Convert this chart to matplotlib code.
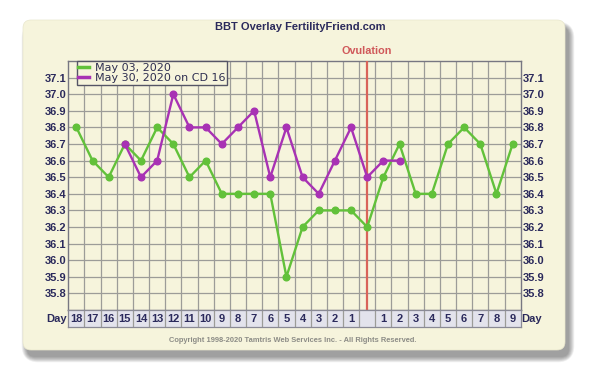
import matplotlib
matplotlib.use('Agg')
import matplotlib.pyplot as plt
import numpy as np
from matplotlib.patches import FancyBboxPatch
from matplotlib.lines import Line2D

# ---------------- data ----------------
day_labels = ['18', '17', '16', '15', '14', '13', '12', '11', '10', '9', '8', '7', '6', '5',
              '4', '3', '2', '1', '', '1', '2', '3', '4', '5', '6', '7', '8', '9']
ovulation_index = 18
green_label = 'May 03, 2020'
green_temps = [36.8, 36.6, 36.5, 36.7, 36.6, 36.8, 36.7, 36.5, 36.6, 36.4, 36.4, 36.4, 36.4, 35.9,
               36.2, 36.3, 36.3, 36.3, 36.2, 36.5, 36.7, 36.4, 36.4, 36.7, 36.8, 36.7, 36.4, 36.7]
purple_label = 'May 30, 2020 on CD 16'
purple_temps = [None, None, None, 36.7, 36.5, 36.6, 37.0, 36.8, 36.8, 36.7, 36.8, 36.9, 36.5, 36.8,
                36.5, 36.4, 36.6, 36.8, 36.5, 36.6, 36.6, None, None, None, None, None, None, None]
y_ticks = [35.8, 35.9, 36.0, 36.1, 36.2, 36.3, 36.4, 36.5, 36.6, 36.7, 36.8, 36.9, 37.0, 37.1]

# ---------------- style ----------------
W, H = 600, 379
CREAM = '#f6f4dc'
NAVY = '#2b2a5c'
GREEN = '#62c13a'
PURPLE = '#a832b4'
RED = '#d9645a'
GRID = '#9c9c98'
BOLD = dict(family='Liberation Sans', weight='bold')

fig = plt.figure(figsize=(W / 100, H / 100), dpi=100)
fig.patch.set_facecolor('white')

# background layer in pixel coordinates
bg = fig.add_axes([0, 0, 1, 1], zorder=0)
bg.set_xlim(0, W)
bg.set_ylim(H, 0)
bg.axis('off')

px, py, pw, ph = 23, 20, 542, 330
for i in range(10):
    e = 9 - i
    bg.add_patch(FancyBboxPatch((px + 4 - e * 0.6, py + 7 - e * 0.6), pw + e * 1.2, ph + e * 1.2,
                                boxstyle='round,pad=0,rounding_size=%g' % (8 + e),
                                fc='black', ec='none', alpha=0.045))
bg.add_patch(FancyBboxPatch((px, py), pw, ph, boxstyle='round,pad=0,rounding_size=8',
                            fc=CREAM, ec='#e8e6cc', lw=0.5))

bg.text(300, 27.5, 'BBT Overlay FertilityFriend.com', ha='center', va='center',
        fontsize=8, color=NAVY, **BOLD)
bg.text(367, 51, 'Ovulation', ha='center', va='center', fontsize=7.8, color='#d0585a', **BOLD)
bg.text(57, 318.5, 'Day', ha='center', va='center', fontsize=8, color=NAVY, **BOLD)
bg.text(532, 318.5, 'Day', ha='center', va='center', fontsize=8, color=NAVY, **BOLD)
bg.text(292.5, 340, 'Copyright 1998-2020 Tamtris Web Services Inc. - All Rights Reserved.',
        ha='center', va='center', fontsize=5.4, color='#8c8c86', **BOLD)

# ---------------- main plot ----------------
L, R, T, B = 68.3, 520.7, 61, 310
ax = fig.add_axes([L / W, 1 - B / H, (R - L) / W, (B - T) / H], zorder=2)
ax.set_facecolor(CREAM)
x = np.arange(len(day_labels))
ax.set_xlim(-0.5, len(day_labels) - 0.5)
ax.set_ylim(35.7, 37.2)
ax.set_yticks(y_ticks)
ax.set_yticklabels(['%.1f' % v for v in y_ticks])
ax.set_xticks([])
ax.set_xticks(x[:-1] + 0.5, minor=True)
ax.tick_params(axis='x', which='both', length=0, labelbottom=False)
ax.tick_params(axis='y', length=0, pad=1.5, labelsize=8, labelcolor=NAVY,
               left=True, right=True, labelleft=True, labelright=True)
for lab in ax.get_yticklabels():
    lab.set_fontfamily('Liberation Sans')
    lab.set_fontweight('bold')
ax.grid(which='minor', axis='x', color=GRID, lw=0.9)
ax.grid(which='major', axis='y', color=GRID, lw=0.9)
ax.set_axisbelow(True)
for s in ax.spines.values():
    s.set_color('#777782')
    s.set_linewidth(1.0)

ax.axvline(ovulation_index, color=RED, lw=1.6, zorder=3)

g = np.array(green_temps, dtype=float)
p = np.array([np.nan if v is None else v for v in purple_temps], dtype=float)
ax.plot(x, g, color=GREEN, lw=1.7, marker='o', ms=4.8, zorder=4)
ax.plot(x, p, color=PURPLE, lw=1.7, marker='o', ms=4.8, zorder=5)

handles = [Line2D([], [], color=GREEN, lw=2.5), Line2D([], [], color=PURPLE, lw=2.5)]
leg = ax.legend(handles, [green_label, purple_label], loc='upper left',
                bbox_to_anchor=((76.7 - L) / (R - L), 0.998), borderaxespad=0,
                fancybox=False, edgecolor='#555566', facecolor=CREAM, framealpha=1,
                prop=dict(family='DejaVu Sans', size=8), borderpad=0.15, labelspacing=0.0,
                handlelength=1.0, handletextpad=0.5)
leg.get_frame().set_linewidth(1.0)
for t in leg.get_texts():
    t.set_color('#2e2e50')
leg.set_zorder(10)

# ---------------- day row ----------------
DB = 326.5
dax = fig.add_axes([L / W, 1 - DB / H, (R - L) / W, (DB - B) / H], zorder=2)
dax.set_facecolor('#e3e3ec')
dax.set_xlim(-0.5, len(day_labels) - 0.5)
dax.set_ylim(0, 1)
dax.set_xticks([])
dax.set_yticks([])
for xb in x[:-1] + 0.5:
    dax.axvline(xb, color=GRID, lw=0.9)
for i, lab in enumerate(day_labels):
    dax.text(i, 0.45, lab, ha='center', va='center', fontsize=8, color=NAVY, **BOLD)
for s in dax.spines.values():
    s.set_color('#8a8a96')
    s.set_linewidth(0.9)

fig.savefig('out.png', dpi=100, facecolor='white')
